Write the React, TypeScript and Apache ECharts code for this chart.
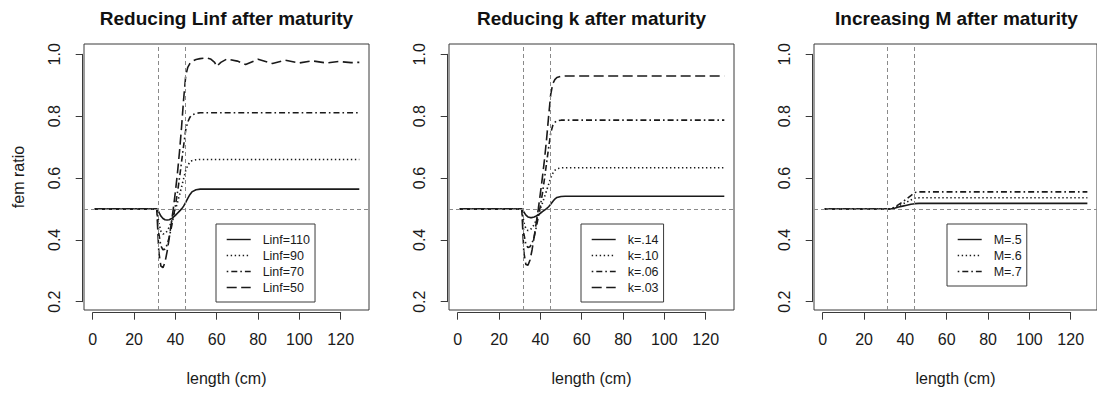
import React, { useEffect, useRef } from "react";
import * as echarts from "echarts";

// ---------- data ----------
const panelTitles = [
  "Reducing Linf after maturity",
  "Reducing k after maturity",
  "Increasing M after maturity",
];
const xAxisTitle = "length (cm)";
const yAxisTitle = "fem ratio";
const refLengths = [31.6, 44.7];
const refRatio = 0.5;

// panel 1 : Linf
const linfNames = ["Linf=110", "Linf=90", "Linf=70", "Linf=50"];
const lenShared = [1, 31, 32, 33, 34, 35, 36, 37, 38, 39, 40, 41, 42, 43, 44, 45, 46, 47, 48, 50, 52, 129];
const linf110 = [0.5, 0.5, 0.49, 0.477, 0.469, 0.465, 0.464, 0.465, 0.468, 0.473, 0.479, 0.486, 0.493, 0.5, 0.509, 0.521, 0.534, 0.546, 0.555, 0.562, 0.564, 0.564];
const linf90 = [0.5, 0.5, 0.455, 0.428, 0.419, 0.42, 0.428, 0.441, 0.457, 0.476, 0.497, 0.52, 0.545, 0.571, 0.598, 0.624, 0.641, 0.651, 0.656, 0.659, 0.66, 0.66];
const linf70 = [0.5, 0.5, 0.42, 0.38, 0.368, 0.37, 0.384, 0.408, 0.438, 0.472, 0.51, 0.552, 0.6, 0.652, 0.705, 0.755, 0.781, 0.796, 0.804, 0.809, 0.811, 0.811];
const lenLinf50 = [1, 31, 32, 33, 34, 35, 36, 37, 38, 39, 40, 41, 42, 43, 44, 45, 46, 47, 48, 50, 52, 55, 57, 59, 60, 62, 65, 70, 74, 80, 87, 93, 100, 106, 113, 119, 125, 129];
const linf50 = [0.5, 0.5, 0.36, 0.315, 0.31, 0.328, 0.362, 0.405, 0.452, 0.5, 0.555, 0.615, 0.685, 0.765, 0.855, 0.93, 0.958, 0.97, 0.977, 0.983, 0.986, 0.988, 0.985, 0.974, 0.961, 0.974, 0.985, 0.978, 0.967, 0.984, 0.97, 0.981, 0.972, 0.979, 0.972, 0.977, 0.973, 0.974];

// panel 2 : k
const kNames = ["k=.14", "k=.10", "k=.06", "k=.03"];
const k14 = [0.5, 0.5, 0.49, 0.48, 0.474, 0.472, 0.472, 0.474, 0.477, 0.481, 0.486, 0.491, 0.496, 0.501, 0.507, 0.515, 0.524, 0.532, 0.537, 0.54, 0.541, 0.541];
const k10 = [0.5, 0.5, 0.457, 0.436, 0.43, 0.432, 0.439, 0.45, 0.464, 0.481, 0.5, 0.519, 0.539, 0.559, 0.58, 0.6, 0.615, 0.625, 0.63, 0.633, 0.633, 0.633];
const k06 = [0.5, 0.5, 0.42, 0.385, 0.375, 0.378, 0.39, 0.41, 0.44, 0.474, 0.51, 0.55, 0.598, 0.648, 0.698, 0.745, 0.77, 0.78, 0.785, 0.787, 0.787, 0.787];
const k03 = [0.5, 0.5, 0.36, 0.32, 0.318, 0.335, 0.368, 0.41, 0.455, 0.5, 0.55, 0.603, 0.66, 0.725, 0.8, 0.87, 0.905, 0.918, 0.925, 0.929, 0.93, 0.93];

// panel 3 : M
const mNames = ["M=.5", "M=.6", "M=.7"];
const lenM = [1, 33, 35, 37, 39, 41, 43, 45, 47, 129];
const m5 = [0.5, 0.5, 0.502, 0.506, 0.509, 0.512, 0.515, 0.517, 0.518, 0.518];
const m6 = [0.5, 0.5, 0.503, 0.51, 0.516, 0.522, 0.529, 0.535, 0.536, 0.536];
const m7 = [0.5, 0.5, 0.505, 0.514, 0.523, 0.533, 0.543, 0.553, 0.555, 0.555];

// axis ticks
const xTickMin = 0;
const xTickMax = 120;
const xTickStep = 20;
const yTickMin = 0.2;
const yTickMax = 1.0;
const yTickStep = 0.2;

// ---------- layout / style ----------
const FONT = '"Liberation Sans", Arial, Helvetica, sans-serif';
const INK = "#1a1a1a";
const FRAME = "#3a3a3a";
const PANEL_DX = 365;
const BOX_L = 84;
const BOX_T = 44;
const BOX_W = 285;
const BOX_H = 266;
const TICK_X0 = 92.7; // pixel of x = 0
const TICK_X1 = 340.7; // pixel of x = 120
const TICK_Y1 = 54.3; // pixel of y = 1.0
const TICK_Y0 = 301.7; // pixel of y = 0.2
const pxPerX = (TICK_X1 - TICK_X0) / (xTickMax - xTickMin);
const pxPerY = (TICK_Y0 - TICK_Y1) / (yTickMax - yTickMin);
const dataXMin = xTickMin - (TICK_X0 - BOX_L) / pxPerX;
const dataXMax = xTickMin + (BOX_L + BOX_W - TICK_X0) / pxPerX;
const dataYMax = yTickMax + (TICK_Y1 - BOX_T) / pxPerY;
const dataYMin = yTickMin - (BOX_T + BOX_H - TICK_Y0) / pxPerY;

const lineTypes: any[] = ["solid", [1.4, 2.6], [1.6, 3, 6, 3], [10, 4.5]];
const legendLefts = [216, 581, 947];
const LEGEND_TEXT_GAP = "\u00a0\u00a0";

const pairs = (xs: number[], ys: number[]) => xs.map((x, i) => [x, ys[i]]);

const panels = [
  {
    names: linfNames,
    data: [pairs(lenShared, linf110), pairs(lenShared, linf90), pairs(lenShared, linf70), pairs(lenLinf50, linf50)],
  },
  {
    names: kNames,
    data: [pairs(lenShared, k14), pairs(lenShared, k10), pairs(lenShared, k06), pairs(lenShared, k03)],
  },
  {
    names: mNames,
    data: [pairs(lenM, m5), pairs(lenM, m6), pairs(lenM, m7)],
  },
];

function buildOption() {
  const grid: any[] = [];
  const xAxis: any[] = [];
  const yAxis: any[] = [];
  const series: any[] = [];
  const legend: any[] = [];
  const graphic: any[] = [];

  panels.forEach((panel, p) => {
    const dx = PANEL_DX * p;
    const gData = 2 * p;
    const gAxis = 2 * p + 1;

    grid.push({
      left: BOX_L + dx,
      top: BOX_T,
      width: BOX_W,
      height: BOX_H,
      show: true,
      borderColor: FRAME,
      borderWidth: 1,
      backgroundColor: "transparent",
    });
    grid.push({
      left: TICK_X0 + dx,
      top: TICK_Y1,
      width: TICK_X1 - TICK_X0,
      height: TICK_Y0 - TICK_Y1,
      show: false,
    });

    xAxis.push({
      type: "value",
      gridIndex: gData,
      min: dataXMin,
      max: dataXMax,
      axisLine: { show: false, onZero: false },
      axisTick: { show: false },
      axisLabel: { show: false },
      splitLine: { show: false },
      name: xAxisTitle,
      nameLocation: "middle",
      nameGap: 60,
      nameTextStyle: { fontSize: 16, color: INK, fontFamily: FONT },
    });
    xAxis.push({
      type: "value",
      gridIndex: gAxis,
      min: xTickMin,
      max: xTickMax,
      interval: xTickStep,
      position: "bottom",
      offset: 11,
      axisLine: { show: true, onZero: false, lineStyle: { color: FRAME, width: 1 } },
      axisTick: { show: true, inside: false, length: 7, lineStyle: { color: FRAME, width: 1 } },
      axisLabel: { show: true, margin: 19, fontSize: 16, color: INK, fontFamily: FONT },
      splitLine: { show: false },
    });

    yAxis.push({
      type: "value",
      gridIndex: gData,
      min: dataYMin,
      max: dataYMax,
      axisLine: { show: false, onZero: false },
      axisTick: { show: false },
      axisLabel: { show: false },
      splitLine: { show: false },
      name: p === 0 ? yAxisTitle : "",
      nameLocation: "middle",
      nameRotate: 90,
      nameGap: 58,
      nameTextStyle: { fontSize: 16, color: INK, fontFamily: FONT },
    });
    yAxis.push({
      type: "value",
      gridIndex: gAxis,
      min: yTickMin,
      max: yTickMax,
      interval: yTickStep,
      position: "left",
      offset: 10,
      axisLine: { show: true, onZero: false, lineStyle: { color: FRAME, width: 1 } },
      axisTick: { show: true, inside: false, length: 7, lineStyle: { color: FRAME, width: 1 } },
      axisLabel: {
        show: true,
        rotate: 90,
        margin: 20,
        fontSize: 16,
        color: INK,
        fontFamily: FONT,
        formatter: (v: number) => v.toFixed(1),
      },
      splitLine: { show: false },
    });

    panel.names.forEach((name, i) => {
      series.push({
        type: "line",
        name,
        xAxisIndex: gData,
        yAxisIndex: gData,
        data: panel.data[i],
        symbol: "none",
        smooth: false,
        silent: true,
        lineStyle: { color: INK, width: 1.6, type: lineTypes[i] },
        itemStyle: { color: INK },
        z: 3,
        markLine:
          i === 0
            ? {
                silent: true,
                symbol: ["none", "none"],
                label: { show: false },
                lineStyle: { color: "#8a8a8a", width: 1, type: [4, 3] },
                emphasis: { disabled: true },
                data: [
                  { xAxis: refLengths[0] },
                  { xAxis: refLengths[1] },
                  { yAxis: refRatio },
                ],
              }
            : undefined,
      });
    });

    legend.push({
      data: panel.names,
      orient: "vertical",
      left: legendLefts[p],
      top: 224,
      itemWidth: 24,
      itemHeight: 10,
      itemGap: 3,
      padding: [9, 5, 8, 10],
      borderColor: FRAME,
      borderWidth: 1,
      borderRadius: 0,
      backgroundColor: "#ffffff",
      selectedMode: false,
      itemStyle: { opacity: 0 },
      lineStyle: { width: 1.4 },
      formatter: (name: string) => LEGEND_TEXT_GAP + name,
      textStyle: { fontSize: 12.5, lineHeight: 12, color: INK, fontFamily: FONT },
    });

    graphic.push({
      type: "text",
      x: BOX_L + BOX_W / 2 + dx,
      y: 18,
      silent: true,
      style: {
        text: panelTitles[p],
        align: "center",
        verticalAlign: "middle",
        textAlign: "center",
        textVerticalAlign: "middle",
        fontSize: 19,
        fontWeight: "bold",
        fontFamily: FONT,
        fill: "#111",
      },
    });
  });

  return {
    animation: false,
    backgroundColor: "#ffffff",
    grid,
    xAxis,
    yAxis,
    series,
    legend,
    graphic,
  };
}

export default function App() {
  const ref = useRef<HTMLDivElement>(null);
  useEffect(() => {
    if (!ref.current) return;
    const chart = echarts.init(ref.current, undefined, { renderer: "svg" });
    chart.setOption(buildOption() as any);
    return () => chart.dispose();
  }, []);
  return (
    <div
      ref={ref}
      style={{ position: "absolute", left: 0, top: 0, width: 1097, height: 394, background: "#fff" }}
    />
  );
}
